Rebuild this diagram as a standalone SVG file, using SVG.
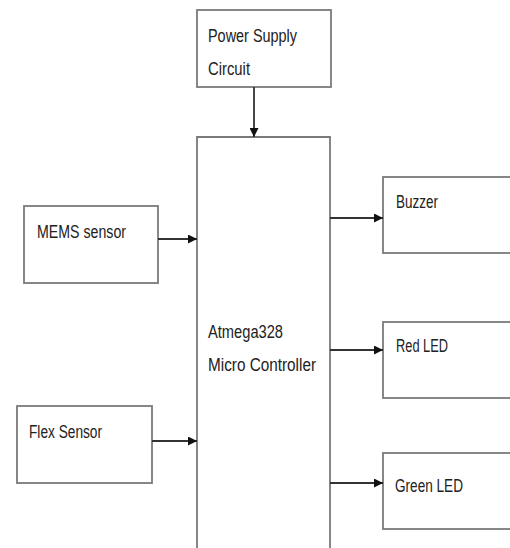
<svg xmlns="http://www.w3.org/2000/svg" width="510" height="548" viewBox="0 0 510 548">
<style>
.box{fill:#fff;stroke:#7a7a7a;stroke-width:1.8}
.lbl{font-family:"Liberation Sans",Arial,sans-serif;font-size:17.5px;fill:#222}
.con{stroke:#333;stroke-width:1.8;fill:none;marker-end:url(#ah)}
</style>
<defs>
<marker id="ah" viewBox="0 0 10 10" refX="10" refY="5" markerWidth="9" markerHeight="9" markerUnits="userSpaceOnUse" orient="auto">
<path d="M0,0 L10,5 L0,10 z" fill="#111"/>
</marker>
</defs>
<rect width="510" height="548" fill="#fff"/>
<g id="power">
<rect class="box" x="197" y="10" width="134" height="77"/>
<text class="lbl" x="208" y="42" textLength="89" lengthAdjust="spacingAndGlyphs">Power Supply</text>
<text class="lbl" x="208" y="75" textLength="42" lengthAdjust="spacingAndGlyphs">Circuit</text>
</g>
<g id="mcu">
<path class="box" d="M197,560 V137 H330 V560"/>
<text class="lbl" x="208" y="338" textLength="75" lengthAdjust="spacingAndGlyphs">Atmega328</text>
<text class="lbl" x="208" y="371" textLength="108" lengthAdjust="spacingAndGlyphs">Micro Controller</text>
</g>
<g id="mems">
<rect class="box" x="24" y="206" width="134" height="77"/>
<text class="lbl" x="37" y="238" textLength="89" lengthAdjust="spacingAndGlyphs">MEMS sensor</text>
</g>
<g id="flex">
<rect class="box" x="17" y="406" width="135" height="77"/>
<text class="lbl" x="29" y="438" textLength="73" lengthAdjust="spacingAndGlyphs">Flex Sensor</text>
</g>
<g id="buzzer">
<rect class="box" x="383" y="177" width="140" height="76"/>
<text class="lbl" x="396" y="208" textLength="42" lengthAdjust="spacingAndGlyphs">Buzzer</text>
</g>
<g id="redled">
<rect class="box" x="383" y="322" width="140" height="76"/>
<text class="lbl" x="396" y="352" textLength="52" lengthAdjust="spacingAndGlyphs">Red LED</text>
</g>
<g id="greenled">
<rect class="box" x="383" y="453" width="140" height="76"/>
<text class="lbl" x="395" y="492" textLength="68" lengthAdjust="spacingAndGlyphs">Green LED</text>
</g>
<g id="connectors">
<line class="con" x1="254" y1="87" x2="254" y2="137"/>
<line class="con" x1="158" y1="239" x2="197" y2="239"/>
<line class="con" x1="152" y1="441" x2="197" y2="441"/>
<line class="con" x1="330" y1="218" x2="383" y2="218"/>
<line class="con" x1="330" y1="350" x2="383" y2="350"/>
<line class="con" x1="330" y1="483" x2="383" y2="483"/>
</g>
</svg>
